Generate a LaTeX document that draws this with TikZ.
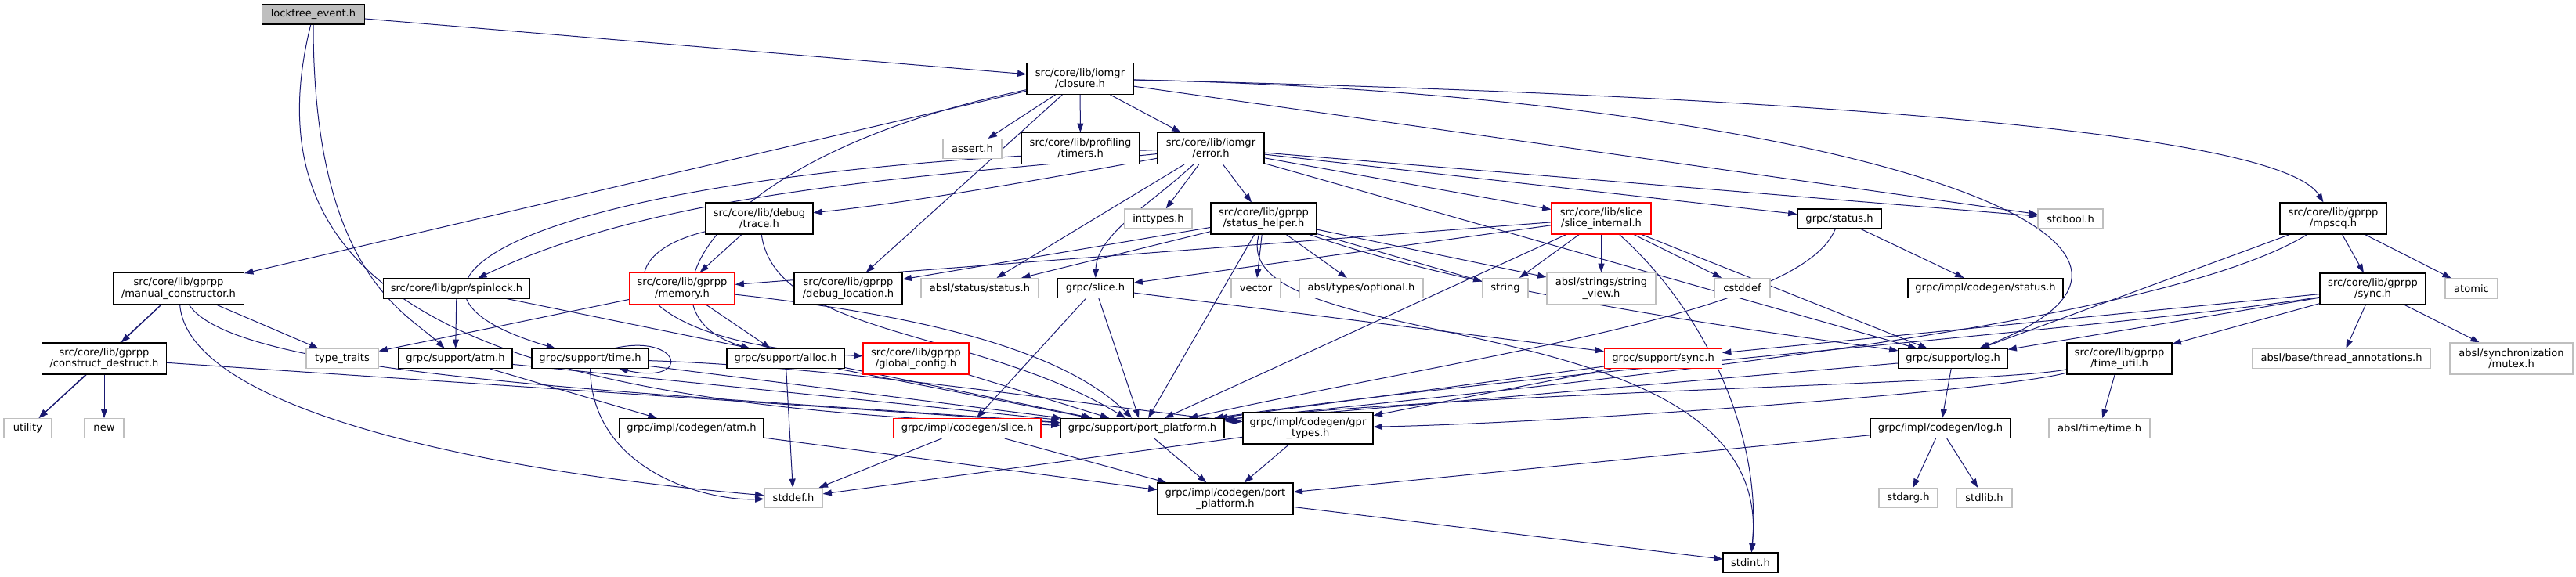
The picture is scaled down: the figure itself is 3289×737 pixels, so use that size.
\documentclass[tikz,border=0pt]{standalone}
\usepackage{fontspec}
\setmainfont{DejaVu Sans}
\usepackage{tikz}
\usetikzlibrary{
  arrows.meta,
  backgrounds,
}
\definecolor{edgeblue}{RGB}{25, 25, 112}
\definecolor{nodegray}{RGB}{191, 191, 191}
\definecolor{truncred}{RGB}{255, 0, 0}
\tikzstyle{hdr} = [
  draw=black,
  rectangle,
  fill=white,
  line width=0.85pt,
  minimum height=18.75pt,
  inner xsep=1pt,
  inner ysep=0pt,
  align=center,
  font=\fontsize{9.8}{10.7}\selectfont,
]
\tikzstyle{twoline} = [minimum height=30pt]
\tikzstyle{syshdr} = [draw=nodegray]
\tikzstyle{cuthdr} = [draw=truncred]
\tikzstyle{incl} = [
  -{Triangle[length=8.5pt,width=6pt]},
  line width=0.75pt,
  edgeblue,
]

\begin{document}
\begin{tikzpicture}[x=0.75pt,y=-0.75pt]
    \useasboundingbox (0,0) rectangle (3289,737);

    % top rows
    \node[hdr,fill=nodegray,minimum width=98.25pt] (lfe) at (400,18.5) {lockfree\_event.h};
    \node[hdr,twoline,minimum width=102pt] (clo) at (1379,100.5) {src/core/lib/iomgr\\/closure.h};
    \node[hdr,syshdr,minimum width=56.25pt] (assert) at (1241.5,190) {assert.h};
    \node[hdr,twoline,minimum width=113.25pt] (tim) at (1379.5,189.5) {src/core/lib/profiling\\/timers.h};
    \node[hdr,twoline,minimum width=102pt] (err) at (1546,189.5) {src/core/lib/iomgr\\/error.h};

    \node[hdr,twoline,minimum width=102.75pt] (trace) at (969.5,279) {src/core/lib/debug\\/trace.h};
    \node[hdr,syshdr,minimum width=64.5pt] (inttypes) at (1479,279.5) {inttypes.h};
    \node[hdr,twoline,minimum width=101.25pt] (sh) at (1613.5,279) {src/core/lib/gprpp\\/status\_helper.h};
    \node[hdr,twoline,cuthdr,minimum width=95.25pt] (si) at (2044.5,279) {src/core/lib/slice\\/slice\_internal.h};
    \node[hdr,minimum width=80.25pt] (status) at (2348.5,279.5) {grpc/status.h};
    \node[hdr,syshdr,minimum width=62.25pt] (stdbool) at (2643.5,279.5) {stdbool.h};
    \node[hdr,twoline,minimum width=102pt] (mpscq) at (2979,279) {src/core/lib/gprpp\\/mpscq.h};

    % middle rows
    \node[hdr,twoline,minimum width=125.25pt] (mc) at (228,368.5) {src/core/lib/gprpp\\/manual\_constructor.h};
    \node[hdr,minimum width=140.25pt] (spin) at (583,368.5) {src/core/lib/gpr/spinlock.h};
    \node[hdr,twoline,cuthdr,minimum width=100.5pt] (mem) at (871,368.5) {src/core/lib/gprpp\\/memory.h};
    \node[hdr,twoline,minimum width=103.5pt] (dloc) at (1083,368.5) {src/core/lib/gprpp\\/debug\_location.h};
    \node[hdr,syshdr,minimum width=112.5pt] (astat) at (1251,368) {absl/status/status.h};
    \node[hdr,minimum width=72.75pt] (gslice) at (1398.5,368) {grpc/slice.h};
    \node[hdr,syshdr,minimum width=47.25pt] (vector) at (1603.5,368) {vector};
    \node[hdr,syshdr,minimum width=118.5pt] (opt) at (1738,368) {absl/types/optional.h};
    \node[hdr,syshdr,minimum width=43.5pt] (string) at (1922,368) {string};
    \node[hdr,twoline,syshdr,minimum width=104.25pt] (sv) at (2044.5,368.5) {absl/strings/string\\\_view.h};
    \node[hdr,syshdr,minimum width=53.25pt] (cstddef) at (2224.5,368) {cstddef};
    \node[hdr,minimum width=148.5pt] (cstatus) at (2535,368) {grpc/impl/codegen/status.h};
    \node[hdr,twoline,minimum width=101.25pt] (psync) at (3029.5,369) {src/core/lib/gprpp\\/sync.h};
    \node[hdr,syshdr,minimum width=50.25pt] (atomic) at (3155.5,368.5) {atomic};

    \node[hdr,twoline,minimum width=119.25pt] (cd) at (133,458) {src/core/lib/gprpp\\/construct\_destruct.h};
    \node[hdr,syshdr,minimum width=69pt] (tt) at (437,458) {type\_traits};
    \node[hdr,minimum width=108.75pt] (atm) at (581.5,458) {grpc/support/atm.h};
    \node[hdr,minimum width=111.75pt] (time) at (753.5,458) {grpc/support/time.h};
    \node[hdr,minimum width=112.5pt] (alloc) at (1003,458) {grpc/support/alloc.h};
    \node[hdr,twoline,cuthdr,minimum width=101.25pt] (gcfg) at (1169.5,458) {src/core/lib/gprpp\\/global\_config.h};
    \node[hdr,cuthdr,minimum width=112.5pt] (gsync) at (2123.5,458) {grpc/support/sync.h};
    \node[hdr,minimum width=104.25pt] (log) at (2493.5,458) {grpc/support/log.h};
    \node[hdr,twoline,minimum width=100.5pt] (tu) at (2706,458) {src/core/lib/gprpp\\/time\_util.h};
    \node[hdr,syshdr,minimum width=170.25pt] (ta) at (2989.5,458) {absl/base/thread\_annotations.h};
    \node[hdr,twoline,syshdr,minimum width=117.75pt] (mutex) at (3206.5,458) {absl/synchronization\\/mutex.h};

    % bottom rows
    \node[hdr,syshdr,minimum width=45.75pt] (util) at (35.5,547) {utility};
    \node[hdr,syshdr,minimum width=37.5pt] (new) at (133,547) {new};
    \node[hdr,minimum width=138pt] (catm) at (883,547) {grpc/impl/codegen/atm.h};
    \node[hdr,cuthdr,minimum width=141pt] (cslice) at (1235,547) {grpc/impl/codegen/slice.h};
    \node[hdr,minimum width=156.75pt] (pp) at (1458.5,547) {grpc/support/port\_platform.h};
    \node[hdr,twoline,minimum width=124.5pt] (gpr) at (1670,547) {grpc/impl/codegen/gpr\\\_types.h};
    \node[hdr,minimum width=134.25pt] (clog) at (2477.5,547) {grpc/impl/codegen/log.h};
    \node[hdr,syshdr,minimum width=96.75pt] (atime) at (2680.5,547) {absl/time/time.h};

    \node[hdr,syshdr,minimum width=55.5pt] (stddef) at (1013,636) {stddef.h};
    \node[hdr,twoline,minimum width=129.75pt] (cpp) at (1564.5,637) {grpc/impl/codegen/port\\\_platform.h};
    \node[hdr,syshdr,minimum width=56.25pt] (stdarg) at (2436.5,636) {stdarg.h};
    \node[hdr,syshdr,minimum width=53.25pt] (stdlib) at (2533.5,636) {stdlib.h};
    \node[hdr,minimum width=52.5pt] (stdint) at (2235,718.5) {stdint.h};

    % include edges
    \begin{scope}[on background layer]
        \draw[incl] (lfe) -- (clo);
        \draw[incl] (lfe) .. controls (400,350) and (520,400) .. (atm);
        \draw[incl] (lfe) .. controls (300,420) and (700,520) .. (pp);

        \draw[incl] (clo) -- (mc);
        \draw[incl] (clo) -- (assert);
        \draw[incl] (clo) -- (tim);
        \draw[incl] (clo) -- (err);
        \draw[incl] (clo) -- (dloc);
        \draw[incl] (clo) .. controls (900,200) and (800,400) .. (alloc);
        \draw[incl] (clo) -- (stdbool);
        \draw[incl] (clo) .. controls (2000,115) and (2900,150) .. (mpscq);
        \draw[incl] (clo) .. controls (2300,120) and (2900,300) .. (log);

        \draw[incl] (err) .. controls (1300,235) and (1150,260) .. (trace);
        \draw[incl] (err) .. controls (1200,225) and (850,240) .. (spin);
        \draw[incl] (err) .. controls (700,215) and (420,360) .. (time);
        \draw[incl] (err) -- (inttypes);
        \draw[incl] (err) -- (sh);
        \draw[incl] (err) .. controls (1470,260) and (1400,300) .. (gslice);
        \draw[incl] (err) -- (astat);
        \draw[incl] (err) -- (si);
        \draw[incl] (err) -- (status);
        \draw[incl] (err) -- (stdbool);
        \draw[incl] (err) -- (log);

        \draw[incl] (trace) -- (mem);
        \draw[incl] (trace) .. controls (760,330) and (800,440) .. (gcfg);
        \draw[incl] (trace) .. controls (990,430) and (1250,420) .. (pp);
        \draw[incl] (mem) -- (alloc);
        \draw[incl] (mem) -- (tt);
        \draw[incl] (mem) .. controls (1150,400) and (1350,440) .. (pp);

        \draw[incl] (sh) -- (dloc);
        \draw[incl] (sh) -- (astat);
        \draw[incl] (sh) -- (pp);
        \draw[incl] (sh) -- (vector);
        \draw[incl] (sh) -- (opt);
        \draw[incl] (sh) -- (string);
        \draw[incl] (sh) -- (sv);
        \draw[incl] (sh) .. controls (1560,460) and (2270,380) .. (stdint);
        \draw[incl] (sh) .. controls (1900,380) and (2300,430) .. (log);

        \draw[incl] (si) -- (string);
        \draw[incl] (si) -- (sv);
        \draw[incl] (si) -- (cstddef);
        \draw[incl] (si) -- (gslice);
        \draw[incl] (si) -- (mem);
        \draw[incl] (si) .. controls (2180,400) and (2250,560) .. (stdint);
        \draw[incl] (si) -- (log);
        \draw[incl] (si) -- (pp);

        \draw[incl] (status) -- (cstatus);
        \draw[incl] (status) .. controls (2300,400) and (1900,450) .. (pp);
        \draw[incl] (gslice) -- (cslice);
        \draw[incl] (gslice) -- (pp);
        \draw[incl] (gslice) -- (gsync);
        \draw[incl] (gsync) -- (pp);
        \draw[incl] (gsync) -- (gpr);

        \draw[incl] (log) -- (clog);
        \draw[incl] (log) -- (pp);
        \draw[incl] (clog) -- (stdarg);
        \draw[incl] (clog) -- (stdlib);
        \draw[incl] (clog) -- (cpp);

        \draw[incl] (tu) -- (atime);
        \draw[incl] (tu) .. controls (2550,490) and (1900,500) .. (pp);
        \draw[incl] (tu) .. controls (2550,500) and (2000,540) .. (gpr);

        \draw[incl] (psync) -- (tu);
        \draw[incl] (psync) -- (log);
        \draw[incl] (psync) -- (gsync);
        \draw[incl] (psync) .. controls (2700,420) and (2000,470) .. (pp);
        \draw[incl] (psync) -- (ta);
        \draw[incl] (psync) -- (mutex);

        \draw[incl] (mpscq) -- (psync);
        \draw[incl] (mpscq) -- (atomic);
        \draw[incl] (mpscq) -- (log);
        \draw[incl] (mpscq) .. controls (2750,420) and (2000,490) .. (pp);

        \draw[incl] (mc) -- (cd);
        \draw[incl] (mc) -- (util);
        \draw[incl] (mc) -- (tt);
        \draw[incl] (mc) .. controls (300,480) and (800,500) .. (pp);
        \draw[incl] (mc) .. controls (240,520) and (600,600) .. (stddef);
        \draw[incl] (cd) -- (util);
        \draw[incl] (cd) -- (new);
        \draw[incl] (cd) -- (pp);

        \draw[incl] (spin) -- (atm);
        \draw[incl] (spin) -- (pp);
        \draw[incl] (atm) -- (catm);
        \draw[incl] (atm) -- (pp);
        \draw[incl] (catm) -- (cpp);

        \draw[incl] (time) .. controls (755,600) and (900,640) .. (stddef);
        \draw[incl] (time) .. controls (1100,470) and (1400,520) .. (gpr);
        \draw[incl] (time) -- (pp);
        \draw[incl] ([xshift=22.5pt]time.north) .. controls (870,425) and (885,492) .. ([xshift=27.75pt]time.south);

        \draw[incl] (alloc) -- (stddef);
        \draw[incl] (alloc) -- (pp);
        \draw[incl] (gcfg) -- (pp);
        \draw[incl] (cslice) -- (stddef);
        \draw[incl] (cslice) -- (cpp);
        \draw[incl] (pp) -- (cpp);
        \draw[incl] (gpr) -- (cpp);
        \draw[incl] (gpr) -- (stddef);
        \draw[incl] (cpp) -- (stdint);
    \end{scope}
\end{tikzpicture}
\end{document}
